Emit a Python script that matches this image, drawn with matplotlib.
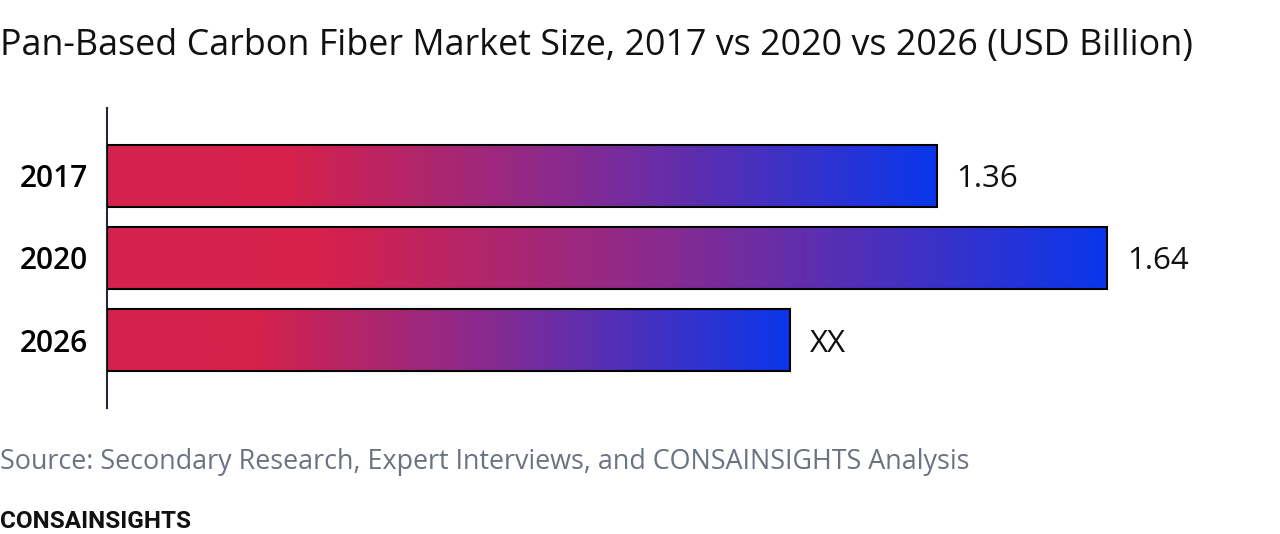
import matplotlib
matplotlib.use("Agg")
import matplotlib.pyplot as plt
from matplotlib.colors import LinearSegmentedColormap
from matplotlib.patches import Rectangle
import numpy as np

years = ["2017", "2020", "2026"]
values = [1.36, 1.64, 1.12]
labels = ["1.36", "1.64", "XX"]

title = "Pan-Based Carbon Fiber Market Size, 2017 vs 2020 vs 2026 (USD Billion)"
source = "Source: Secondary Research, Expert Interviews, and CONSAINSIGHTS Analysis"
brand = "CONSAINSIGHTS"

grad = LinearSegmentedColormap.from_list(
    "bar", [(0.0, "#d5214f"), (0.22, "#d5214c"), (0.55, "#8a2a8e"), (1.0, "#0a36eb")])

fig = plt.figure(figsize=(12.8, 5.34), dpi=100)
W, H = 1280, 534
ax = fig.add_axes([107 / W, 1 - 408 / H, (W - 107) / W, 300 / H])

px_per_unit = 610
bar_h = 62 / 82

for i, (v, lab) in enumerate(zip(values, labels)):
    g = np.linspace(0, 1, 256).reshape(1, -1)
    ax.imshow(g, cmap=grad, aspect="auto", interpolation="bilinear",
              extent=(0, v, i + bar_h / 2, i - bar_h / 2), zorder=2)
    ax.add_patch(Rectangle((0, i - bar_h / 2), v, bar_h, fill=False,
                           edgecolor="black", linewidth=1.5, zorder=3))
    ax.text(v + 20 / px_per_unit, i, lab, va="center_baseline", ha="left",
            fontsize=22.5, family="Open Sans", fontweight="medium", color="#111111")

ax.set_xlim(0, (W - 107) / px_per_unit)
ax.set_ylim(len(years) - 1 + 0.829, -0.829)
ax.set_yticks(range(len(years)))
ax.set_yticklabels(years, fontsize=21.5, family="Open Sans", fontweight="semibold")
ax.tick_params(axis="y", length=0, pad=13.5)
ax.set_xticks([])
for s in ["top", "right", "bottom"]:
    ax.spines[s].set_visible(False)
ax.spines["left"].set_color("#1f2937")
ax.spines["left"].set_linewidth(1.5)

fig.text(0, 1 - 46 / H, title, fontsize=25.8, family="Open Sans", va="center", ha="left", color="#111111")
fig.text(0, 1 - 462 / H, source, fontsize=19.4, family="Open Sans", va="center", ha="left", color="#6b7280")
fig.text(0, 1 - 522 / H, brand, fontsize=17.5, family="Roboto", fontweight="bold", va="center", ha="left", color="#111111")

fig.savefig("out.png", dpi=100)
